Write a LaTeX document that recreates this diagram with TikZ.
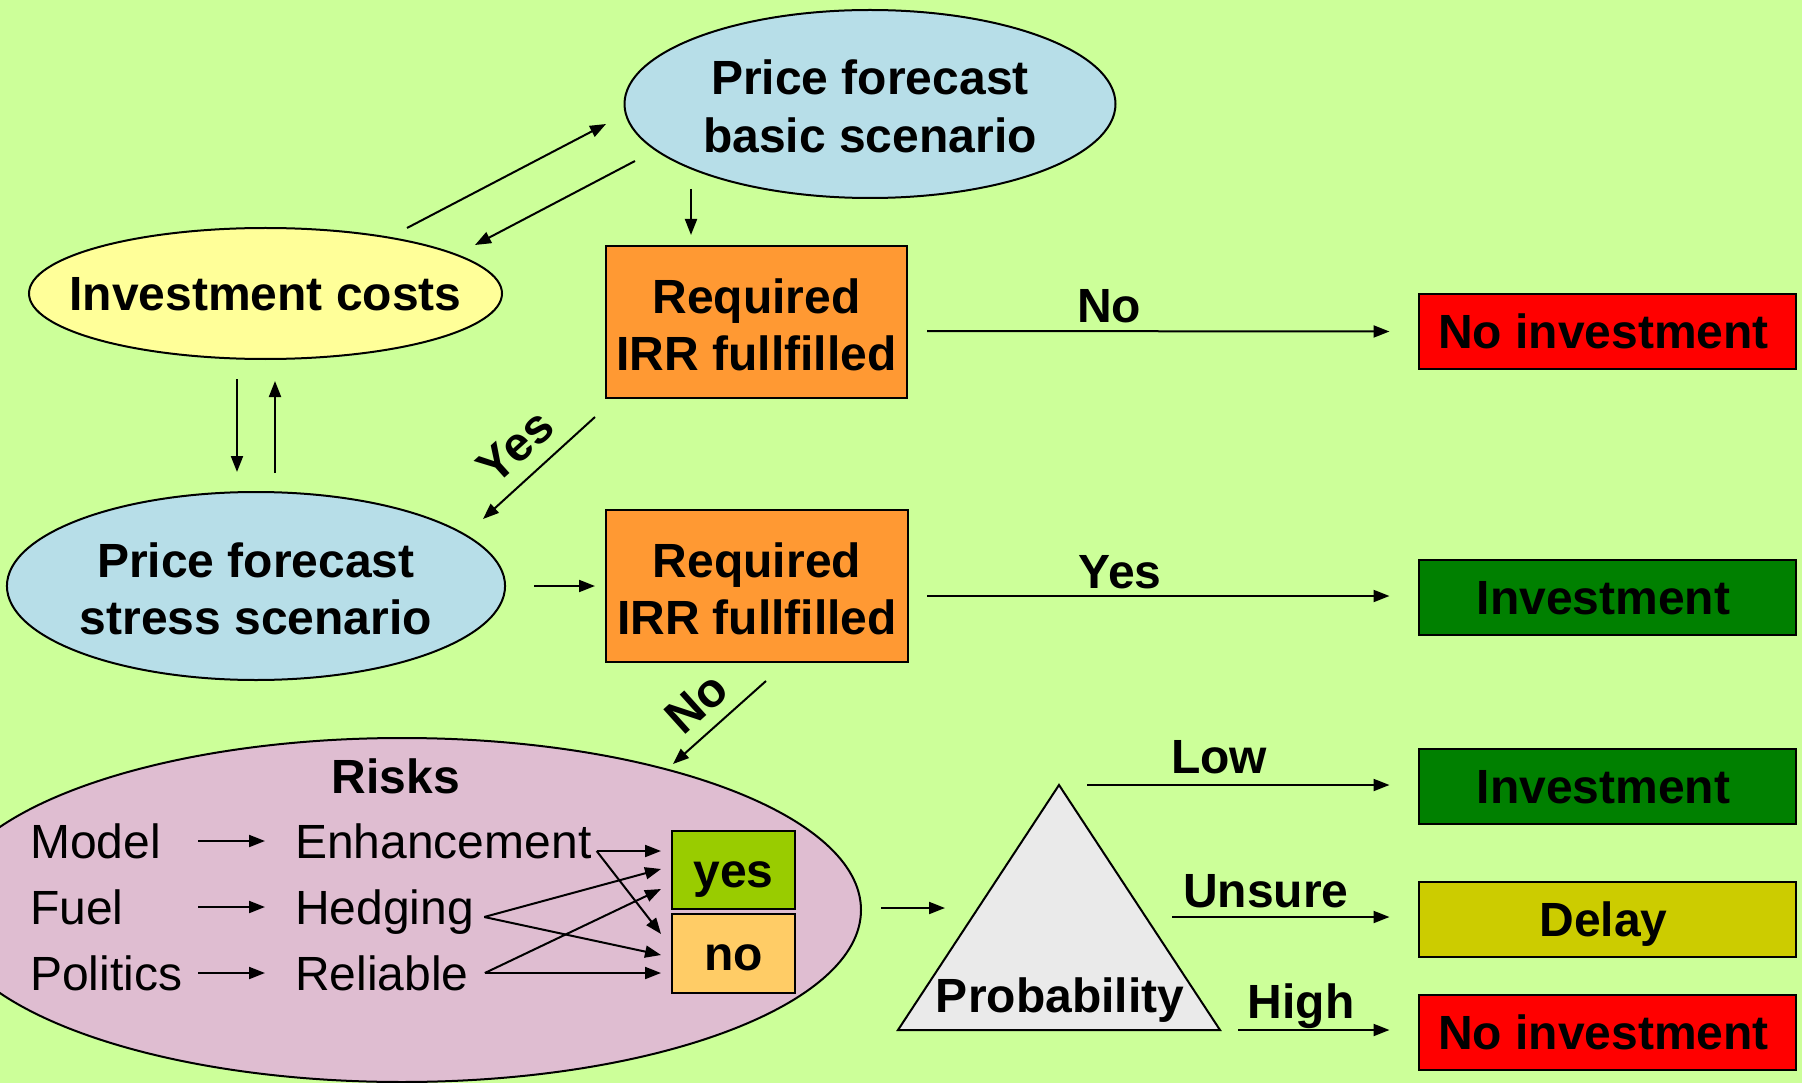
\documentclass[tikz,border=0pt]{standalone}
\usepackage{fontspec}
\setmainfont{Liberation Sans}
\usetikzlibrary{arrows.meta,shapes.geometric,calc}
\definecolor{bgc}{RGB}{204,255,153}
\definecolor{blu}{RGB}{183,222,232}
\definecolor{ylw}{RGB}{255,255,153}
\definecolor{org}{RGB}{255,153,51}
\definecolor{redc}{RGB}{255,0,0}
\definecolor{grn}{RGB}{0,128,0}
\definecolor{dly}{RGB}{204,204,0}
\definecolor{pnk}{RGB}{223,189,209}
\definecolor{yesc}{RGB}{153,204,0}
\definecolor{noc}{RGB}{255,204,102}
\definecolor{tri}{RGB}{234,234,234}
\tikzset{
  basefont/.style={font=\fontsize{48}{57.5}\selectfont\bfseries, inner sep=0pt},
  one/.style={text height=34.4pt, text depth=0pt},
  two/.style={text height=97pt, text depth=0pt},
  ell/.style={basefont, ellipse, draw, line width=2pt, align=center},
  boxn/.style={basefont, rectangle, draw, line width=2pt, align=center},
  outbox/.style={boxn, one, minimum width=377, minimum height=75},
  arr/.style={line width=2pt, -{Triangle[length=16pt,width=12pt]}},
  lbl/.style={basefont, anchor=base},
  rtxt/.style={font=\fontsize{48}{57.5}\selectfont, inner sep=0pt, one, anchor=west},
}
\begin{document}
\begin{tikzpicture}[x=1pt,y=-1pt]
\useasboundingbox (0,0) rectangle (1802,1083);
\fill[bgc] (0,0) rectangle (1802,1083);

% main nodes
\node[ell, two, fill=blu, minimum width=491, minimum height=188] (basic) at (870,104) {Price forecast\\basic scenario};
\node[ell, one, fill=ylw, minimum width=473, minimum height=131] (cost) at (265.5,293.5) {\makebox[0pt]{Investment costs}};
\node[ell, two, fill=blu, minimum width=492, minimum height=188] (stress) at (256,586) {Price forecast\\stress scenario};
\node[boxn, two, fill=org, minimum width=301, minimum height=152] (irr1) at (756.5,322) {Required\\IRR fullfilled};
\node[boxn, two, fill=org, minimum width=302, minimum height=152] (irr2) at (757,586) {Required\\IRR fullfilled};

\node[outbox, fill=redc] (noinv1) at (1607,331.5) {\hspace*{-7pt}No investment};
\node[outbox, fill=grn] (inv1) at (1607,597) {\hspace*{-7pt}Investment};
\node[outbox, fill=grn] (inv2) at (1607,786) {\hspace*{-7pt}Investment};
\node[outbox, fill=dly] (delay) at (1607,919) {\hspace*{-7pt}Delay};
\node[outbox, fill=redc] (noinv2) at (1607,1032) {\hspace*{-7pt}No investment};

% risks ellipse
\begin{scope}
\clip (0,0) rectangle (1802,1083);
\node[draw, ellipse, fill=pnk, line width=2pt, minimum width=918, minimum height=344, inner sep=0pt] (risk) at (402,910) {};
\end{scope}
\node[lbl] (risks) at (396,793) {Risks};
\node[rtxt] (model) at (30,841) {Model};
\node[rtxt] (fuel) at (30,907) {Fuel};
\node[rtxt] (politics) at (30,973) {Politics};
\node[rtxt] (enh) at (295,841) {Enhancement};
\node[rtxt] (hedg) at (295,907) {Hedging};
\node[rtxt] (reli) at (295,973) {Reliable};
\node[boxn, one, fill=yesc, minimum width=123, minimum height=78] (yes) at (733.5,870) {yes};
\node[boxn, one, fill=noc, minimum width=123, minimum height=79] (no) at (733.5,953.5) {no};

% triangle
\coordinate (tA) at (1059,785);
\coordinate (tB) at (898,1030);
\coordinate (tC) at (1220,1030);
\filldraw[fill=tri, line width=2pt] (tA) -- (tB) -- (tC) -- cycle;
\node[lbl] (prob) at (1060,1012) {Probability};

% arrows top
\draw[arr] ($(basic.center)+(-235,57)$) -- ($(cost.center)+(209.5,-48.5)$);
\draw[arr] ($(cost.center)+(141.5,-65.5)$) -- ($(basic.center)+(-264,20)$);
\draw[arr] ($(basic.center)+(-179,85)$) -- ($(irr1.north)+(-65.5,-10)$);
\draw[arr] ($(irr1.east)+(19,9)$) -- ($(noinv1.west)+(-28,0)$);
\draw[arr] ($(irr1.south west)+(-10,18)$) -- ($(stress.center)+(227,-67)$);
\draw[arr] ($(cost.south)+(-28.5,19)$) -- ($(stress.north)+(-19,-19)$);
\draw[arr] ($(stress.north)+(19,-18)$) -- ($(cost.south)+(9.5,21)$);
\draw[arr] ($(stress.east)+(28,0)$) -- ($(irr2.west)+(-10,0)$);
\draw[arr] ($(irr2.east)+(18,10)$) -- ($(inv1.west)+(-28,-1)$);
\draw[arr] ($(irr2.south)+(9,18)$) -- ($(risk.center)+(271,-146)$);
\draw[arr] ($(risk.east)+(19,-2)$) -- ($(tB)+(47,-122)$);
\draw[arr] ($(tA)+(28,0)$) -- ($(inv2.west)+(-28,-1)$);
\draw[arr] ($(tA)+(113,132)$) -- ($(delay.west)+(-28,-2)$);
\draw[arr] ($(tC)+(18,0)$) -- ($(noinv2.west)+(-28,-2)$);

% labels
\node[lbl] (lno1) at (1109,323) {No};
\node[lbl] (lyes1) at (1120,588) {Yes};
\node[lbl] (llow) at (1219,773) {Low};
\node[lbl] (lunsure) at (1266,907) {Unsure};
\node[lbl] (lhigh) at (1301,1018) {High};
\node[basefont, one, rotate=42] (lyes2) at (515,446) {Yes};
\node[basefont, one, rotate=42] (lno2) at (696,702) {No};

% risk arrows
\draw[arr] ([xshift=168pt]model.west) -- ([xshift=-30pt]enh.west);
\draw[arr] ([xshift=168pt]fuel.west) -- ([xshift=-30pt]hedg.west);
\draw[arr] ([xshift=168pt]politics.west) -- ([xshift=-30pt]reli.west);
\draw[arr] ($(enh.east)+(5,10)$) -- ($(yes.west)+(-10,-19)$);
\draw[arr] ($(enh.east)+(5,10)$) -- ($(no.west)+(-10,-19.5)$);
\draw[arr] ($(hedg.east)+(10,10)$) -- ($(yes.west)+(-10,-1)$);
\draw[arr] ($(hedg.east)+(10,10)$) -- ($(no.west)+(-10,1.5)$);
\draw[arr] ($(reli.east)+(16,0)$) -- ($(yes.west)+(-10,19)$);
\draw[arr] ($(reli.east)+(16,0)$) -- ($(no.west)+(-10,19.5)$);
\end{tikzpicture}
\end{document}
